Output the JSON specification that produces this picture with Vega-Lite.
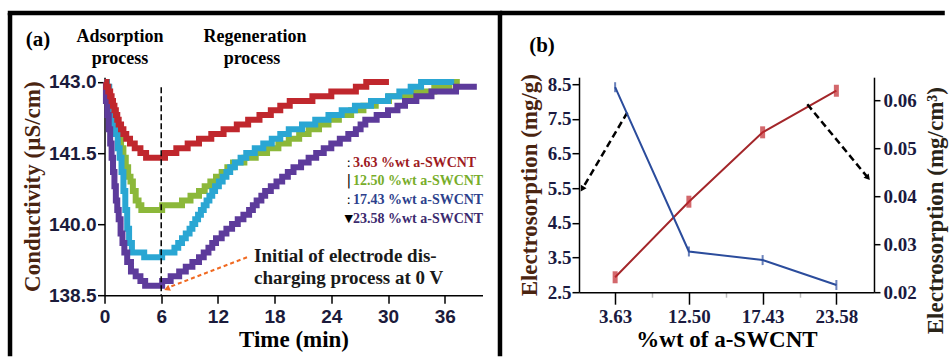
{
  "$schema": "https://vega.github.io/schema/vega-lite/v6.json",
  "background": "white",
  "padding": {"left": 6.5, "top": 9.2, "right": 0, "bottom": 0},
  "spacing": 96.5,
  "bounds": "flush",
  "config": {
    "view": {"stroke": null},
    "font": "Liberation Serif",
    "axis": {"grid": false, "domainColor": "black", "tickColor": "black", "domainWidth": 1.5, "tickWidth": 1.5, "labelFlush": false, "labelOverlap": false}
  },
  "datasets": {
    "conductivity": [
      {"loading": "12.50", "t": 0, "v": 143.0}, {"loading": "12.50", "t": 0.25, "v": 142.8}, {"loading": "12.50", "t": 0.5, "v": 142.6}, {"loading": "12.50", "t": 0.75, "v": 142.4}, {"loading": "12.50", "t": 1.0, "v": 142.2}, {"loading": "12.50", "t": 1.25, "v": 142.0}, {"loading": "12.50", "t": 1.5, "v": 141.8}, {"loading": "12.50", "t": 1.75, "v": 141.6}, {"loading": "12.50", "t": 2.0, "v": 141.4}, {"loading": "12.50", "t": 2.25, "v": 141.2}, {"loading": "12.50", "t": 2.5, "v": 141.0}, {"loading": "12.50", "t": 2.75, "v": 140.9}, {"loading": "12.50", "t": 3.0, "v": 140.7}, {"loading": "12.50", "t": 3.3, "v": 140.5}, {"loading": "12.50", "t": 3.6, "v": 140.4}, {"loading": "12.50", "t": 3.9, "v": 140.3}, {"loading": "12.50", "t": 6.1, "v": 140.4}, {"loading": "12.50", "t": 8.2, "v": 140.5}, {"loading": "12.50", "t": 9.1, "v": 140.6}, {"loading": "12.50", "t": 10.0, "v": 140.7}, {"loading": "12.50", "t": 10.6, "v": 140.8}, {"loading": "12.50", "t": 11.2, "v": 140.9}, {"loading": "12.50", "t": 11.8, "v": 141.0}, {"loading": "12.50", "t": 12.4, "v": 141.1}, {"loading": "12.50", "t": 13.0, "v": 141.2}, {"loading": "12.50", "t": 13.6, "v": 141.3}, {"loading": "12.50", "t": 14.8, "v": 141.4}, {"loading": "12.50", "t": 16.0, "v": 141.5}, {"loading": "12.50", "t": 17.2, "v": 141.6}, {"loading": "12.50", "t": 18.4, "v": 141.7}, {"loading": "12.50", "t": 19.5, "v": 141.8}, {"loading": "12.50", "t": 20.6, "v": 141.9}, {"loading": "12.50", "t": 21.6, "v": 142.0}, {"loading": "12.50", "t": 22.7, "v": 142.1}, {"loading": "12.50", "t": 23.7, "v": 142.2}, {"loading": "12.50", "t": 24.8, "v": 142.3}, {"loading": "12.50", "t": 26.1, "v": 142.4}, {"loading": "12.50", "t": 27.4, "v": 142.5}, {"loading": "12.50", "t": 28.7, "v": 142.6}, {"loading": "12.50", "t": 30.1, "v": 142.7}, {"loading": "12.50", "t": 32.5, "v": 142.8}, {"loading": "12.50", "t": 34.9, "v": 142.9}, {"loading": "12.50", "t": 36.5, "v": 143.0}, {"loading": "12.50", "t": 37.6, "v": 143.0},
      {"loading": "17.43", "t": 0, "v": 143.0}, {"loading": "17.43", "t": 0.25, "v": 142.9}, {"loading": "17.43", "t": 0.5, "v": 142.6}, {"loading": "17.43", "t": 0.75, "v": 142.4}, {"loading": "17.43", "t": 1.0, "v": 142.1}, {"loading": "17.43", "t": 1.2, "v": 141.9}, {"loading": "17.43", "t": 1.4, "v": 141.6}, {"loading": "17.43", "t": 1.6, "v": 141.4}, {"loading": "17.43", "t": 1.8, "v": 141.1}, {"loading": "17.43", "t": 2.0, "v": 140.7}, {"loading": "17.43", "t": 2.2, "v": 140.3}, {"loading": "17.43", "t": 2.4, "v": 139.9}, {"loading": "17.43", "t": 2.6, "v": 139.6}, {"loading": "17.43", "t": 2.9, "v": 139.4}, {"loading": "17.43", "t": 4.2, "v": 139.3}, {"loading": "17.43", "t": 6.1, "v": 139.4}, {"loading": "17.43", "t": 7.4, "v": 139.5}, {"loading": "17.43", "t": 7.8, "v": 139.6}, {"loading": "17.43", "t": 8.2, "v": 139.7}, {"loading": "17.43", "t": 8.6, "v": 139.8}, {"loading": "17.43", "t": 9.0, "v": 139.9}, {"loading": "17.43", "t": 9.3, "v": 140.0}, {"loading": "17.43", "t": 9.6, "v": 140.1}, {"loading": "17.43", "t": 9.9, "v": 140.2}, {"loading": "17.43", "t": 10.2, "v": 140.3}, {"loading": "17.43", "t": 10.5, "v": 140.4}, {"loading": "17.43", "t": 10.8, "v": 140.5}, {"loading": "17.43", "t": 11.1, "v": 140.6}, {"loading": "17.43", "t": 11.4, "v": 140.7}, {"loading": "17.43", "t": 11.7, "v": 140.8}, {"loading": "17.43", "t": 12.1, "v": 140.9}, {"loading": "17.43", "t": 12.5, "v": 141.0}, {"loading": "17.43", "t": 12.9, "v": 141.1}, {"loading": "17.43", "t": 13.3, "v": 141.2}, {"loading": "17.43", "t": 13.8, "v": 141.3}, {"loading": "17.43", "t": 14.4, "v": 141.4}, {"loading": "17.43", "t": 15.0, "v": 141.5}, {"loading": "17.43", "t": 15.9, "v": 141.6}, {"loading": "17.43", "t": 16.8, "v": 141.7}, {"loading": "17.43", "t": 17.7, "v": 141.8}, {"loading": "17.43", "t": 18.6, "v": 141.9}, {"loading": "17.43", "t": 19.5, "v": 142.0}, {"loading": "17.43", "t": 20.9, "v": 142.1}, {"loading": "17.43", "t": 22.3, "v": 142.2}, {"loading": "17.43", "t": 23.7, "v": 142.3}, {"loading": "17.43", "t": 25.1, "v": 142.4}, {"loading": "17.43", "t": 26.5, "v": 142.5}, {"loading": "17.43", "t": 28.2, "v": 142.6}, {"loading": "17.43", "t": 30.0, "v": 142.7}, {"loading": "17.43", "t": 31.2, "v": 142.8}, {"loading": "17.43", "t": 32.4, "v": 142.9}, {"loading": "17.43", "t": 33.5, "v": 143.0}, {"loading": "17.43", "t": 37.0, "v": 143.0},
      {"loading": "23.58", "t": 0, "v": 143.0}, {"loading": "23.58", "t": 0.15, "v": 142.6}, {"loading": "23.58", "t": 0.3, "v": 142.3}, {"loading": "23.58", "t": 0.45, "v": 142.0}, {"loading": "23.58", "t": 0.6, "v": 141.7}, {"loading": "23.58", "t": 0.75, "v": 141.4}, {"loading": "23.58", "t": 0.9, "v": 141.1}, {"loading": "23.58", "t": 1.05, "v": 140.8}, {"loading": "23.58", "t": 1.2, "v": 140.5}, {"loading": "23.58", "t": 1.35, "v": 140.3}, {"loading": "23.58", "t": 1.5, "v": 140.1}, {"loading": "23.58", "t": 1.7, "v": 139.8}, {"loading": "23.58", "t": 1.9, "v": 139.6}, {"loading": "23.58", "t": 2.1, "v": 139.4}, {"loading": "23.58", "t": 2.4, "v": 139.2}, {"loading": "23.58", "t": 2.8, "v": 139.0}, {"loading": "23.58", "t": 3.3, "v": 138.9}, {"loading": "23.58", "t": 3.8, "v": 138.8}, {"loading": "23.58", "t": 4.3, "v": 138.7}, {"loading": "23.58", "t": 6.1, "v": 138.8}, {"loading": "23.58", "t": 7.0, "v": 138.9}, {"loading": "23.58", "t": 7.9, "v": 139.0}, {"loading": "23.58", "t": 8.6, "v": 139.1}, {"loading": "23.58", "t": 9.3, "v": 139.2}, {"loading": "23.58", "t": 10.0, "v": 139.3}, {"loading": "23.58", "t": 10.5, "v": 139.4}, {"loading": "23.58", "t": 11.0, "v": 139.5}, {"loading": "23.58", "t": 11.4, "v": 139.6}, {"loading": "23.58", "t": 11.8, "v": 139.7}, {"loading": "23.58", "t": 12.4, "v": 139.8}, {"loading": "23.58", "t": 12.9, "v": 139.9}, {"loading": "23.58", "t": 13.5, "v": 140.0}, {"loading": "23.58", "t": 14.1, "v": 140.1}, {"loading": "23.58", "t": 14.7, "v": 140.2}, {"loading": "23.58", "t": 15.3, "v": 140.3}, {"loading": "23.58", "t": 15.7, "v": 140.4}, {"loading": "23.58", "t": 16.1, "v": 140.5}, {"loading": "23.58", "t": 16.6, "v": 140.6}, {"loading": "23.58", "t": 17.0, "v": 140.7}, {"loading": "23.58", "t": 17.6, "v": 140.8}, {"loading": "23.58", "t": 18.2, "v": 140.9}, {"loading": "23.58", "t": 18.8, "v": 141.0}, {"loading": "23.58", "t": 19.4, "v": 141.1}, {"loading": "23.58", "t": 20.0, "v": 141.2}, {"loading": "23.58", "t": 20.8, "v": 141.3}, {"loading": "23.58", "t": 21.6, "v": 141.4}, {"loading": "23.58", "t": 22.4, "v": 141.5}, {"loading": "23.58", "t": 23.2, "v": 141.6}, {"loading": "23.58", "t": 24.0, "v": 141.7}, {"loading": "23.58", "t": 24.9, "v": 141.8}, {"loading": "23.58", "t": 25.8, "v": 141.9}, {"loading": "23.58", "t": 26.6, "v": 142.0}, {"loading": "23.58", "t": 27.1, "v": 142.1}, {"loading": "23.58", "t": 27.6, "v": 142.2}, {"loading": "23.58", "t": 28.8, "v": 142.3}, {"loading": "23.58", "t": 30.0, "v": 142.4}, {"loading": "23.58", "t": 31.0, "v": 142.5}, {"loading": "23.58", "t": 31.8, "v": 142.6}, {"loading": "23.58", "t": 33.0, "v": 142.7}, {"loading": "23.58", "t": 34.6, "v": 142.8}, {"loading": "23.58", "t": 37.2, "v": 142.9}, {"loading": "23.58", "t": 39.4, "v": 142.9},
      {"loading": "3.63", "t": 0, "v": 143.0}, {"loading": "3.63", "t": 0.2, "v": 142.9}, {"loading": "3.63", "t": 0.4, "v": 142.8}, {"loading": "3.63", "t": 0.6, "v": 142.7}, {"loading": "3.63", "t": 0.75, "v": 142.6}, {"loading": "3.63", "t": 0.9, "v": 142.5}, {"loading": "3.63", "t": 1.05, "v": 142.4}, {"loading": "3.63", "t": 1.2, "v": 142.3}, {"loading": "3.63", "t": 1.35, "v": 142.2}, {"loading": "3.63", "t": 1.5, "v": 142.1}, {"loading": "3.63", "t": 1.75, "v": 142.0}, {"loading": "3.63", "t": 2.0, "v": 141.9}, {"loading": "3.63", "t": 2.3, "v": 141.8}, {"loading": "3.63", "t": 2.7, "v": 141.7}, {"loading": "3.63", "t": 3.2, "v": 141.6}, {"loading": "3.63", "t": 3.8, "v": 141.5}, {"loading": "3.63", "t": 4.4, "v": 141.4}, {"loading": "3.63", "t": 6.4, "v": 141.5}, {"loading": "3.63", "t": 7.6, "v": 141.6}, {"loading": "3.63", "t": 8.8, "v": 141.7}, {"loading": "3.63", "t": 10.0, "v": 141.8}, {"loading": "3.63", "t": 11.3, "v": 141.9}, {"loading": "3.63", "t": 12.6, "v": 142.0}, {"loading": "3.63", "t": 14.0, "v": 142.1}, {"loading": "3.63", "t": 15.2, "v": 142.2}, {"loading": "3.63", "t": 16.4, "v": 142.3}, {"loading": "3.63", "t": 17.6, "v": 142.4}, {"loading": "3.63", "t": 18.6, "v": 142.5}, {"loading": "3.63", "t": 19.6, "v": 142.6}, {"loading": "3.63", "t": 22.0, "v": 142.7}, {"loading": "3.63", "t": 24.0, "v": 142.8}, {"loading": "3.63", "t": 26.6, "v": 142.9}, {"loading": "3.63", "t": 27.7, "v": 143.0}, {"loading": "3.63", "t": 30.1, "v": 143.0}
    ],
    "electrosorption": [
      {"pct": "3.63", "idx": 1, "mgg": 2.93, "mgcm3": 0.0628},
      {"pct": "12.50", "idx": 2, "mgg": 5.11, "mgcm3": 0.0285},
      {"pct": "17.43", "idx": 3, "mgg": 7.11, "mgcm3": 0.0267},
      {"pct": "23.58", "idx": 4, "mgg": 8.31, "mgcm3": 0.0215}
    ]
  },
  "hconcat": [
    {
      "width": 378,
      "height": 218,
      "layer": [
        {
          "data": {"name": "conductivity"},
          "mark": {"type": "line", "interpolate": "step-after", "strokeWidth": 6},
          "encoding": {
            "x": {"field": "t", "type": "quantitative", "scale": {"domain": [0, 40], "nice": false, "zero": false},
              "axis": {"title": "Time (min)", "values": [0, 6, 12, 18, 24, 30, 36], "tickCount": 10, "labelOverlap": false, "labelFont": "Liberation Sans", "labelFontWeight": "bold", "labelFontSize": 19, "labelColor": "#1b1b3b", "labelPadding": 4, "tickSize": 8, "titleFont": "Liberation Serif", "titleFontSize": 23, "titleFontWeight": "bold", "titleColor": "black", "titlePadding": 2}},
            "y": {"field": "v", "type": "quantitative", "scale": {"domain": [138.5, 143.1], "nice": false, "zero": false},
              "axis": {"title": "Conductivity (µS/cm)", "values": [138.5, 140, 141.5, 143], "tickCount": 10, "format": ".1f", "labelOverlap": false, "labelFont": "Liberation Sans", "labelFontWeight": "bold", "labelFontSize": 19, "labelColor": "#1b1b3b", "labelPadding": 1.5, "tickSize": 7, "titleFont": "Liberation Serif", "titleFontSize": 23, "titleFontWeight": "bold", "titleColor": "#4a2410", "titlePadding": 4}},
            "stroke": {"field": "loading", "type": "nominal", "scale": {"domain": ["3.63", "12.50", "17.43", "23.58"], "range": ["#c0272d", "#8cb83a", "#2aa6d3", "#5d3b9b"]}, "legend": null}
          }
        },
        {
          "data": {"values": [{}]},
          "mark": {"type": "rule", "color": "black", "strokeWidth": 1.5, "strokeDash": [6, 3]},
          "encoding": {"x": {"datum": 6}, "y": {"datum": 142.89}, "y2": {"datum": 138.5}}
        },
        {
          "data": {"values": [{}]},
          "mark": {"type": "rule", "color": "#f06a22", "strokeWidth": 2, "strokeDash": [4, 3]},
          "encoding": {"x": {"datum": 15.08}, "y": {"datum": 139.3}, "x2": {"datum": 6.7}, "y2": {"datum": 138.66}}
        },
        {
          "data": {"values": [{}]},
          "mark": {"type": "point", "shape": "triangle", "filled": true, "size": 45, "color": "#f06a22", "angle": 246.6, "opacity": 1},
          "encoding": {"x": {"datum": 6.7}, "y": {"datum": 138.64}}
        },
        {
          "data": {"values": [{}]},
          "mark": {"type": "text", "text": "(a)", "fontSize": 21, "fontWeight": "bold", "align": "center", "baseline": "middle", "color": "black"},
          "encoding": {"x": {"datum": -7.04}, "y": {"datum": 143.88}}
        },
        {
          "data": {"values": [{}]},
          "mark": {"type": "text", "text": "Adsorption", "fontSize": 18, "fontWeight": "bold", "align": "center", "baseline": "middle", "color": "black"},
          "encoding": {"x": {"datum": 1.64}, "y": {"datum": 143.944}}
        },
        {
          "data": {"values": [{}]},
          "mark": {"type": "text", "text": "process", "fontSize": 18, "fontWeight": "bold", "align": "center", "baseline": "middle", "color": "black"},
          "encoding": {"x": {"datum": 1.64}, "y": {"datum": 143.48}}
        },
        {
          "data": {"values": [{}]},
          "mark": {"type": "text", "text": "Regeneration", "fontSize": 18, "fontWeight": "bold", "align": "center", "baseline": "middle", "color": "black"},
          "encoding": {"x": {"datum": 15.93}, "y": {"datum": 143.944}}
        },
        {
          "data": {"values": [{}]},
          "mark": {"type": "text", "text": "process", "fontSize": 18, "fontWeight": "bold", "align": "center", "baseline": "middle", "color": "black"},
          "encoding": {"x": {"datum": 15.61}, "y": {"datum": 143.48}}
        },
        {
          "data": {"values": [{}]},
          "mark": {"type": "text", "text": "3.63 %wt a-SWCNT", "fontSize": 14, "fontWeight": "bold", "align": "left", "baseline": "middle", "color": "#9e1b1f"},
          "encoding": {"x": {"datum": 26.3}, "y": {"datum": 141.28}}
        },
        {
          "data": {"values": [{}]},
          "mark": {"type": "text", "text": "12.50 %wt a-SWCNT", "fontSize": 14, "fontWeight": "bold", "align": "left", "baseline": "middle", "color": "#77ad2a"},
          "encoding": {"x": {"datum": 26.3}, "y": {"datum": 140.9}}
        },
        {
          "data": {"values": [{}]},
          "mark": {"type": "text", "text": "17.43 %wt a-SWCNT", "fontSize": 14, "fontWeight": "bold", "align": "left", "baseline": "middle", "color": "#2c3f8c"},
          "encoding": {"x": {"datum": 26.3}, "y": {"datum": 140.5}}
        },
        {
          "data": {"values": [{}]},
          "mark": {"type": "text", "text": "23.58 %wt a-SWCNT", "fontSize": 14, "fontWeight": "bold", "align": "left", "baseline": "middle", "color": "#3b2a6e"},
          "encoding": {"x": {"datum": 26.3}, "y": {"datum": 140.1}}
        },
        {
          "data": {"values": [{}]},
          "mark": {"type": "text", "text": ":", "fontSize": 13, "font": "DejaVu Sans", "align": "center", "baseline": "middle", "color": "black"},
          "encoding": {"x": {"datum": 25.85}, "y": {"datum": 141.28}}
        },
        {
          "data": {"values": [{}]},
          "mark": {"type": "text", "text": "|", "fontSize": 14, "font": "DejaVu Sans", "align": "center", "baseline": "middle", "color": "black"},
          "encoding": {"x": {"datum": 25.85}, "y": {"datum": 140.9}}
        },
        {
          "data": {"values": [{}]},
          "mark": {"type": "text", "text": ":", "fontSize": 13, "font": "DejaVu Sans", "align": "center", "baseline": "middle", "color": "black"},
          "encoding": {"x": {"datum": 25.85}, "y": {"datum": 140.5}}
        },
        {
          "data": {"values": [{}]},
          "mark": {"type": "text", "text": "▼", "fontSize": 11, "font": "DejaVu Sans", "align": "center", "baseline": "middle", "color": "black"},
          "encoding": {"x": {"datum": 25.85}, "y": {"datum": 140.1}}
        },
        {
          "data": {"values": [{}]},
          "mark": {"type": "text", "text": "Initial of electrode dis-", "fontSize": 19, "fontWeight": "bold", "align": "left", "baseline": "middle", "color": "#1a1a1a"},
          "encoding": {"x": {"datum": 15.82}, "y": {"datum": 139.33}}
        },
        {
          "data": {"values": [{}]},
          "mark": {"type": "text", "text": "charging process at 0 V", "fontSize": 19, "fontWeight": "bold", "align": "left", "baseline": "middle", "color": "#1a1a1a"},
          "encoding": {"x": {"datum": 15.82}, "y": {"datum": 138.87}}
        },
        {
          "data": {"values": [{}]},
          "mark": {"type": "rule", "color": "black", "strokeWidth": 4.5, "strokeCap": "square"},
          "encoding": {"x": {"datum": -10.0}, "x2": {"datum": 41.85}, "y": {"datum": 144.457}}
        },
        {
          "data": {"values": [{}]},
          "mark": {"type": "rule", "color": "black", "strokeWidth": 4.5},
          "encoding": {"x": {"datum": -10.0}, "y": {"datum": 144.457}, "y2": {"datum": 137.213}}
        },
        {
          "data": {"values": [{}]},
          "mark": {"type": "rule", "color": "black", "strokeWidth": 4.5},
          "encoding": {"x": {"datum": 41.85}, "y": {"datum": 144.457}, "y2": {"datum": 137.213}}
        }
      ]
    },
    {
      "width": 295,
      "height": 215,
      "resolve": {"scale": {"y": "independent"}},
      "layer": [
        {
          "layer": [
            {
              "data": {"name": "electrosorption"},
              "mark": {"type": "line", "color": "#a3262a", "strokeWidth": 2},
              "encoding": {
                "x": {"field": "idx", "type": "quantitative", "scale": {"domain": [0.51, 4.51], "nice": false, "zero": false},
                  "axis": {"title": "%wt of a-SWCNT", "values": [1, 1.5, 2, 2.5, 3, 3.5, 4], "tickCount": 10, "labelOverlap": false,
                    "labelExpr": "datum.value == 1 ? '3.63' : datum.value == 2 ? '12.50' : datum.value == 3 ? '17.43' : datum.value == 4 ? '23.58' : ''",
                    "tickSize": {"condition": {"test": "datum.value % 1 != 0", "value": 5}, "value": 12},
                    "tickColor": {"condition": {"test": "datum.value % 1 != 0", "value": "#bbbbbb"}, "value": "black"},
                    "labelFont": "Liberation Serif", "labelFontWeight": "bold", "labelFontSize": 19, "labelColor": "#1a1a40", "labelPadding": 3,
                    "titleFont": "Liberation Serif", "titleFontSize": 23, "titleFontWeight": "bold", "titleColor": "black", "titlePadding": 2}},
                "y": {"field": "mgg", "type": "quantitative", "scale": {"domain": [2.5, 8.7], "nice": false, "zero": false},
                  "axis": {"title": "Electrosorption (mg/g)", "values": [2.5, 3.5, 4.5, 5.5, 6.5, 7.5, 8.5], "tickCount": 10, "format": ".1f", "labelOverlap": false,
                    "labelFont": "Liberation Serif", "labelFontWeight": "bold", "labelFontSize": 19, "labelColor": "#1a1a40", "labelPadding": 1, "tickSize": 7,
                    "titleFont": "Liberation Serif", "titleFontSize": 23, "titleFontWeight": "bold", "titleColor": "#4a2410", "titlePadding": 6}}
              }
            },
            {
              "data": {"name": "electrosorption"},
              "mark": {"type": "tick", "orient": "vertical", "size": 12, "thickness": 5, "color": "#c0282d"},
              "encoding": {
                "x": {"field": "idx", "type": "quantitative"},
                "y": {"field": "mgg", "type": "quantitative"}
              }
            },
            {
              "data": {"values": [{}]},
              "mark": {"type": "rule", "color": "black", "strokeWidth": 2.5, "strokeDash": [7, 4]},
              "encoding": {"x": {"datum": 1.165}, "y": {"datum": 7.682}, "x2": {"datum": 0.56}, "y2": {"datum": 5.5}}
            },
            {
              "data": {"values": [{}]},
              "mark": {"type": "point", "shape": "triangle", "filled": true, "size": 45, "color": "black", "angle": 211.6, "opacity": 1},
              "encoding": {"x": {"datum": 0.56}, "y": {"datum": 5.5}}
            },
            {
              "data": {"values": [{}]},
              "mark": {"type": "rule", "color": "black", "strokeWidth": 2.5, "strokeDash": [7, 4]},
              "encoding": {"x": {"datum": 3.606}, "y": {"datum": 7.921}, "x2": {"datum": 4.42}, "y2": {"datum": 5.82}}
            },
            {
              "data": {"values": [{}]},
              "mark": {"type": "point", "shape": "triangle", "filled": true, "size": 45, "color": "black", "angle": 140.1, "opacity": 1},
              "encoding": {"x": {"datum": 4.42}, "y": {"datum": 5.82}}
            },
            {
              "data": {"values": [{}]},
              "mark": {"type": "text", "text": "(b)", "fontSize": 21, "fontWeight": "bold", "align": "center", "baseline": "middle", "color": "black"},
              "encoding": {"x": {"datum": 0.008}, "y": {"datum": 9.594}}
            },
            {
              "data": {"values": [{}]},
              "mark": {"type": "rule", "color": "black", "strokeWidth": 4.5},
              "encoding": {"x": {"datum": -0.561}, "x2": {"datum": 5.47}, "y": {"datum": 10.554}}
            }
          ]
        },
        {
          "layer": [
            {
              "data": {"name": "electrosorption"},
              "mark": {"type": "line", "color": "#2b4c9c", "strokeWidth": 2},
              "encoding": {
                "x": {"field": "idx", "type": "quantitative"},
                "y": {"field": "mgcm3", "type": "quantitative", "scale": {"domain": [0.02, 0.06489], "nice": false, "zero": false},
                  "axis": {"orient": "right", "title": "Electrosorption (mg/cm³)", "values": [0.02, 0.03, 0.04, 0.05, 0.06], "tickCount": 10, "format": ".2f", "labelOverlap": false,
                    "labelFont": "Liberation Serif", "labelFontWeight": "bold", "labelFontSize": 19, "labelColor": "#1a1a40", "labelPadding": 3, "tickSize": 6,
                    "titleFont": "Liberation Serif", "titleFontSize": 23, "titleFontWeight": "bold", "titleColor": "#2a2418",
                    "titleAngle": 270, "titleX": 62, "titleY": 133, "titleAlign": "center", "titleBaseline": "middle"}}
              }
            },
            {
              "data": {"name": "electrosorption"},
              "mark": {"type": "tick", "orient": "vertical", "size": 10, "thickness": 2, "color": "#2b4c9c"},
              "encoding": {
                "x": {"field": "idx", "type": "quantitative"},
                "y": {"field": "mgcm3", "type": "quantitative"}
              }
            }
          ]
        }
      ]
    }
  ]
}
